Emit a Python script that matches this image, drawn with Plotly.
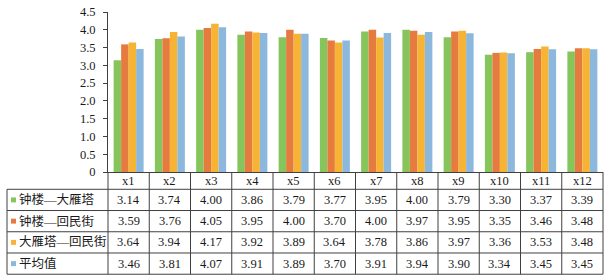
import plotly.graph_objects as go

categories = ["x1", "x2", "x3", "x4", "x5", "x6", "x7", "x8", "x9", "x10", "x11", "x12"]
series_names = ["钟楼—大雁塔", "钟楼—回民街", "大雁塔—回民街", "平均值"]
s1 = [3.14, 3.74, 4.00, 3.86, 3.79, 3.77, 3.95, 4.00, 3.79, 3.30, 3.37, 3.39]
s2 = [3.59, 3.76, 4.05, 3.95, 4.00, 3.70, 4.00, 3.97, 3.95, 3.35, 3.46, 3.48]
s3 = [3.64, 3.94, 4.17, 3.92, 3.89, 3.64, 3.78, 3.86, 3.97, 3.36, 3.53, 3.48]
s4 = [3.46, 3.81, 4.07, 3.91, 3.89, 3.70, 3.91, 3.94, 3.90, 3.34, 3.45, 3.45]
series_values = [s1, s2, s3, s4]
y_tick_vals = [0, 0.5, 1.0, 1.5, 2.0, 2.5, 3.0, 3.5, 4.0, 4.5]
y_tick_labels = ["0", "0.5", "1.0", "1.5", "2.0", "2.5", "3.0", "3.5", "4.0", "4.5"]

colors = ["#86C45C", "#E67B40", "#F6B334", "#8DB8DD"]

W, H = 608, 280
L, R, T, B = 108, 5, 10, 108
PW, PH = W - L - R, H - T - B
SERIF = "Liberation Serif, Times New Roman, serif"
CJK = "Liberation Serif, Noto Sans CJK SC, serif"
LINE = "#404040"
TXT = "#1a1a1a"


def px_x(X):
    return (X - L) / PW


def px_y(Y):
    return (T + PH - Y) / PH


fig = go.Figure()
for name, vals, c in zip(series_names, series_values, colors):
    fig.add_trace(go.Bar(x=categories, y=vals, name=name, marker=dict(color=c, line=dict(width=0))))

# table geometry (pixels)
header_bottom = 189.5
row_edges = [189.5, 211, 232.5, 254, 275.5]
table_left = 7
n = len(categories)

shapes = []
for Y in row_edges:
    shapes.append(dict(type="line", xref="paper", yref="paper", x0=px_x(table_left), x1=1,
                       y0=px_y(Y), y1=px_y(Y), line=dict(color=LINE, width=1)))
shapes.append(dict(type="line", xref="paper", yref="paper", x0=px_x(table_left), x1=px_x(table_left),
                   y0=px_y(row_edges[0]), y1=px_y(row_edges[-1]), line=dict(color=LINE, width=1)))
for i in range(n + 1):
    xp = i / n
    shapes.append(dict(type="line", xref="paper", yref="paper", x0=xp, x1=xp,
                       y0=0, y1=px_y(row_edges[-1]), line=dict(color=LINE, width=1)))

annotations = []
# header labels
for cat in categories:
    annotations.append(dict(x=cat, xref="x", yref="paper", y=px_y((T + PH + header_bottom) / 2),
                            text=cat, showarrow=False, font=dict(family=SERIF, size=12.5, color=TXT),
                            xanchor="center", yanchor="middle"))
for r, (name, vals, c) in enumerate(zip(series_names, series_values, colors)):
    yc = (row_edges[r] + row_edges[r + 1]) / 2
    shapes.append(dict(type="rect", xref="paper", yref="paper", x0=px_x(11), x1=px_x(16),
                       y0=px_y(yc + 2.5), y1=px_y(yc - 2.5), fillcolor=c, line=dict(width=0)))
    annotations.append(dict(x=px_x(17), xref="paper", yref="paper", y=px_y(yc), text=name,
                            showarrow=False, font=dict(family=CJK, size=12.5, color=TXT),
                            xanchor="left", yanchor="middle"))
    for cat, v in zip(categories, vals):
        annotations.append(dict(x=cat, xref="x", yref="paper", y=px_y(yc), text=f"{v:.2f}",
                                showarrow=False, font=dict(family=SERIF, size=12.5, color=TXT),
                                xanchor="center", yanchor="middle"))

fig.update_layout(
    width=W, height=H,
    margin=dict(l=L, r=R, t=T, b=B, pad=0),
    paper_bgcolor="white", plot_bgcolor="white",
    barmode="group", bargap=0.273, bargroupgap=0,
    showlegend=False,
    shapes=shapes, annotations=annotations,
    xaxis=dict(range=[-0.5, n - 0.5], showticklabels=False, ticks="", showgrid=False,
               showline=True, linecolor=LINE, linewidth=1, zeroline=False),
    yaxis=dict(range=[0, 4.5], tickvals=y_tick_vals, ticktext=y_tick_labels, showgrid=False,
               showline=True, linecolor=LINE, linewidth=1, ticks="outside", ticklen=4,
               tickcolor=LINE, zeroline=False, ticklabelstandoff=5,
               tickfont=dict(family=SERIF, size=12.5, color=TXT)),
)

fig.write_html("out.html", config={"displayModeBar": False},
               post_script="document.body.style.margin='0';document.body.style.padding='0';")
